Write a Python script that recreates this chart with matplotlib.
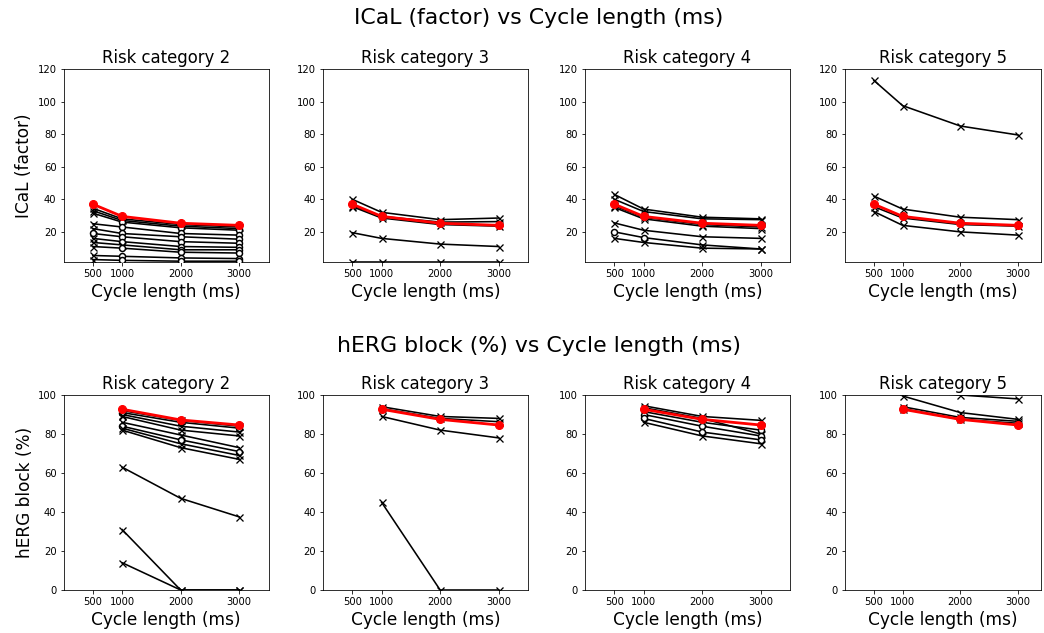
import numpy as np
import matplotlib
matplotlib.use("Agg")
import matplotlib.pyplot as plt

nan = np.nan
cycle_lengths = [500, 1000, 2000, 3000]
risk_categories = [2, 3, 4, 5]

# ICaL (factor): each drug line -> (values per cycle length, marker per point)
ical_lines = {
    2: [([34.5, 28, 24.5, 23], "xxxx"),
        ([33, 27, 23.5, 22], "xxoo"),
        ([31.5, 26, 22.5, 21], "xooo"),
        ([25, 23, 19, 18], "xooo"),
        ([22, 19, 17, 15.5], "xooo"),
        ([19, 17, 14, 13], "oooo"),
        ([16, 14, 11, 10.5], "xooo"),
        ([13.5, 12, 9, 9], "xxoo"),
        ([11, 10, 7.5, 7], "xooo"),
        ([5.5, 5, 4, 3.6], "xooo"),
        ([3, 2.5, 2, 2], "xooo")],
    3: [([40, 32, 27.5, 28.5], "xxxx"),
        ([36, 29.5, 26, 26.3], "xxxx"),
        ([35.5, 28.5, 24.5, 23.5], "xxxx"),
        ([19.5, 16, 12.5, 11], "xxxx"),
        ([1.5, 1.5, 1.5, 1.5], "xxxx")],
    4: [([43, 34, 29, 28], "xxxx"),
        ([40, 32.5, 28, 27.5], "xxxx"),
        ([36, 29, 24.5, 23], "xxxx"),
        ([35, 28, 23.5, 22], "xxxx"),
        ([25.5, 21, 17, 16], "xxxx"),
        ([20, 16.5, 12, 9.5], "ooxx"),
        ([16, 13.5, 10, 9.5], "xxxx")],
    5: [([113, 97.5, 85, 79.5], "xxxx"),
        ([42, 34, 29, 27.5], "xxxx"),
        ([35.5, 28.5, 24.5, 23.5], "xxxx"),
        ([32.5, 24, 20, 18], "xxxx")],
}
ical_ref = {2: [37, 29.5, 25.3, 24], 3: [37, 29.5, 25.3, 24],
            4: [37, 29.5, 25.3, 24], 5: [37, 29.5, 25.3, 24]}

# hERG block (%)
herg_lines = {
    2: [([nan, 92, 87, 84], "xxxx"),
        ([nan, 91, 86, 83], "xooo"),
        ([nan, 90, 84, 81], "xxxx"),
        ([nan, 89, 82, 79], "xxxx"),
        ([nan, 86, 79.5, 73], "xxxx"),
        ([nan, 84, 77, 71], "xooo"),
        ([nan, 83, 75, 69], "xxxx"),
        ([nan, 82, 73, 67], "xxxx"),
        ([nan, 63, 47, 37.5], "xxxx"),
        ([nan, 31, 0, 0], "xxxx"),
        ([nan, 14, 0, 0], "xxxx")],
    3: [([nan, 94, 89, 88], "xxxx"),
        ([nan, 93, 88, 86.3], "xxxx"),
        ([nan, 89, 82, 78], "xxxx"),
        ([nan, 45, 0, 0], "xxxx")],
    4: [([nan, 94.5, 89, 87], "xxxx"),
        ([nan, 93.5, 88, 80], "xxxx"),
        ([nan, 91.5, 86, 82], "xxxo"),
        ([nan, 90, 84, 79], "xooo"),
        ([nan, 88, 81, 77], "xooo"),
        ([nan, 86, 79, 75], "xxxx")],
    5: [([nan, 102, 100, 98], "xxxx"),
        ([nan, 99.5, 91, 87.5], "xxxx"),
        ([nan, 94, 88.5, 86.5], "xxxx"),
        ([nan, 93, 87.5, 85.5], "xxxx")],
}
herg_ref = {2: [nan, 92.7, 87.2, 84.6], 3: [nan, 92.7, 87.5, 84.6],
            4: [nan, 92.7, 87.5, 84.6], 5: [nan, 92.7, 87.5, 84.6]}


def draw_panel(ax, lines, ref):
    x = np.array(cycle_lengths)
    for vals, marks in lines:
        vals = np.array(vals, dtype=float)
        ax.plot(x, vals, "-", color="black", lw=1.6, zorder=2)
        for xi, yi, m in zip(x, vals, marks):
            if np.isnan(yi):
                continue
            if m == "x":
                ax.plot(xi, yi, "x", color="black", ms=7, mew=1.3, zorder=3)
            else:
                ax.plot(xi, yi, "o", mfc="white", mec="black", ms=6, mew=1.5, zorder=3)
    ax.plot(x, ref, "-o", color="red", lw=2.8, ms=8, zorder=4)


W, H = 1044, 633
fig = plt.figure(figsize=(W / 72, H / 72), dpi=72)

lefts = [63.5, 323, 585, 845]
widths = [205, 205, 205, 196]
xmax = [3500, 3500, 3500, 3400]

for row in range(2):
    top, bottom = (69, 262) if row == 0 else (395, 590)
    for col, cat in enumerate(risk_categories):
        ax = fig.add_axes([lefts[col] / W, 1 - bottom / H, widths[col] / W, (bottom - top) / H])
        if row == 0:
            draw_panel(ax, ical_lines[cat], ical_ref[cat])
            ax.set_ylim(1.5, 120)
            ax.set_yticks([20, 40, 60, 80, 100, 120])
            if col == 0:
                ax.set_ylabel("ICaL (factor)", fontsize=17)
        else:
            draw_panel(ax, herg_lines[cat], herg_ref[cat])
            ax.set_ylim(0, 100)
            ax.set_yticks([0, 20, 40, 60, 80, 100])
            if col == 0:
                ax.set_ylabel("hERG block (%)", fontsize=17)
        ax.set_xlim(0, xmax[col])
        ax.set_xticks(cycle_lengths)
        ax.tick_params(labelsize=10)
        ax.set_title("Risk category %d" % cat, fontsize=16.5)
        ax.set_xlabel("Cycle length (ms)", fontsize=17)

fig.text(0.516, 1 - 18 / H, "ICaL (factor) vs Cycle length (ms)", fontsize=22, ha="center", va="center")
fig.text(0.516, 1 - 346 / H, "hERG block (%) vs Cycle length (ms)", fontsize=22, ha="center", va="center")

fig.savefig("out.png", dpi=72)
